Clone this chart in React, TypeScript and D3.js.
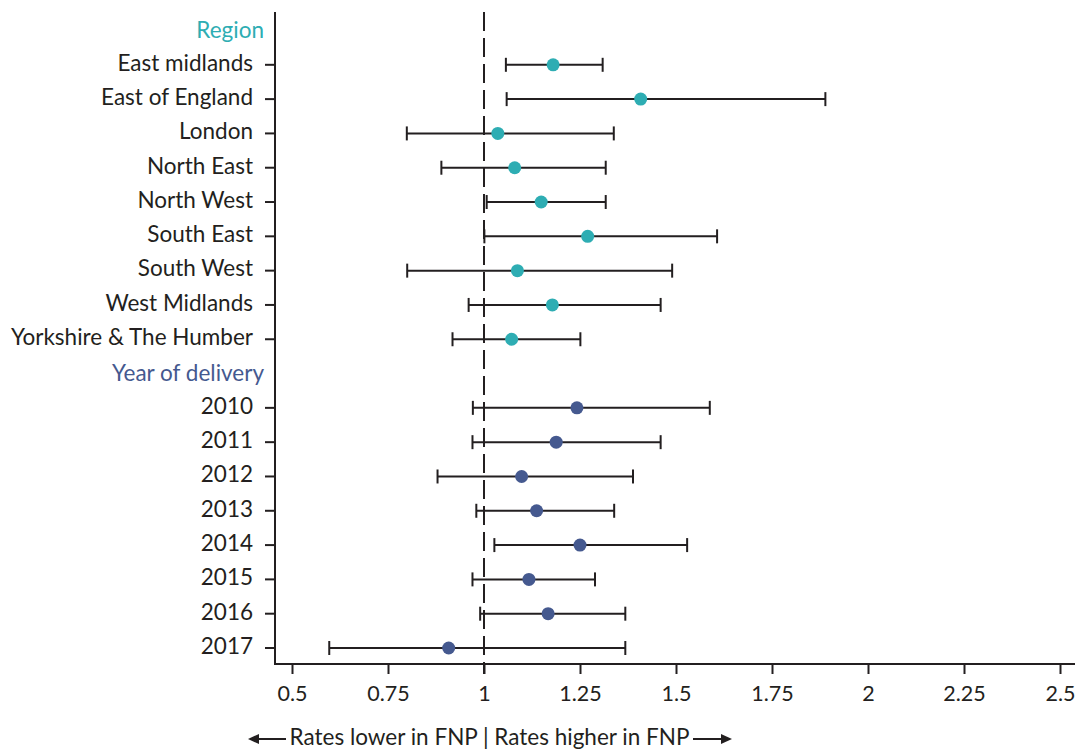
import React, { useEffect, useRef } from "react";
import * as d3 from "d3";

const regionLabels = [
  "East midlands",
  "East of England",
  "London",
  "North East",
  "North West",
  "South East",
  "South West",
  "West Midlands",
  "Yorkshire & The Humber",
];
const regionEstimate = [1.18, 1.408, 1.036, 1.08, 1.149, 1.27, 1.087, 1.178, 1.072];
const regionLower = [1.057, 1.059, 0.799, 0.889, 1.007, 1.001, 0.8, 0.96, 0.918];
const regionUpper = [1.309, 1.889, 1.338, 1.317, 1.317, 1.607, 1.49, 1.46, 1.251];

const yearLabels = ["2010", "2011", "2012", "2013", "2014", "2015", "2016", "2017"];
const yearEstimate = [1.242, 1.188, 1.098, 1.137, 1.25, 1.117, 1.167, 0.908];
const yearLower = [0.971, 0.97, 0.879, 0.98, 1.027, 0.97, 0.99, 0.597];
const yearUpper = [1.588, 1.46, 1.388, 1.339, 1.529, 1.289, 1.368, 1.368];

const xTicks = [0.5, 0.75, 1, 1.25, 1.5, 1.75, 2, 2.25, 2.5];
const groupHeaders = ["Region", "Year of delivery"];
const referenceValue = 1;
const footerText = "Rates lower in FNP | Rates higher in FNP";

const W = 1079;
const H = 751;
const FONT = "Lato, 'Noto Sans', sans-serif";
const TEXT = "#231f20";
const TEAL = "#2eadb3";
const NAVY = "#45598f";
const LABEL_SIZE = 22.5;
const TICK_SIZE = 21.5;

type Row = { key: string; label: string; header?: boolean; color?: string; est?: number; lo?: number; hi?: number };

const rows: Row[] = [
  { key: "h0", label: groupHeaders[0], header: true, color: TEAL },
  ...regionLabels.map((l, i) => ({ key: "r" + i, label: l, color: TEAL, est: regionEstimate[i], lo: regionLower[i], hi: regionUpper[i] })),
  { key: "h1", label: groupHeaders[1], header: true, color: NAVY },
  ...yearLabels.map((l, i) => ({ key: "y" + i, label: l, color: NAVY, est: yearEstimate[i], lo: yearLower[i], hi: yearUpper[i] })),
];

export default function App() {
  const axisRef = useRef<SVGGElement>(null);
  const x = d3.scaleLinear().domain([0.5, 2.5]).range([292, 1060]);
  const y = d3.scalePoint<string>().domain(rows.map((r) => r.key)).range([30.5, 648]);
  const axisX = 275;
  const axisY = 664;
  const topY = 12;

  useEffect(() => {
    if (!axisRef.current) return;
    const g = d3.select(axisRef.current);
    g.selectAll("*").remove();
    g.call(
      d3
        .axisBottom(x)
        .tickValues(xTicks)
        .tickSize(10)
        .tickPadding(12)
        .tickFormat((d) => String(d))
    );
    g.select(".domain").remove();
    g.selectAll(".tick line").attr("stroke", TEXT).attr("stroke-width", 2);
    g.selectAll(".tick text")
      .attr("fill", TEXT)
      .style("font-family", FONT)
      .style("font-size", TICK_SIZE + "px");
  }, []);

  const capH = 7;

  return (
    <svg width={W} height={H} style={{ position: "absolute", left: 0, top: 0, background: "#fff" }}>
      <line
        x1={x(referenceValue)}
        x2={x(referenceValue)}
        y1={topY}
        y2={axisY + 10}
        stroke={TEXT}
        strokeWidth={2}
        strokeDasharray="19,7"
      />
      <line x1={axisX} x2={axisX} y1={topY} y2={axisY + 1} stroke={TEXT} strokeWidth={2} />
      <line x1={axisX - 1} x2={1075} y1={axisY} y2={axisY} stroke={TEXT} strokeWidth={2} />
      <g ref={axisRef} transform={`translate(0,${axisY})`} />

      {rows.map((r) => {
        const yy = y(r.key)!;
        if (r.header) {
          return (
            <text key={r.key} x={264} y={yy} dy="0.32em" textAnchor="end" fill={r.color} fontFamily={FONT} fontSize={LABEL_SIZE}>
              {r.label}
            </text>
          );
        }
        return (
          <g key={r.key}>
            <line x1={axisX - 10} x2={axisX} y1={yy} y2={yy} stroke={TEXT} strokeWidth={2} />
            <text x={253} y={yy} dy="0.26em" textAnchor="end" fill={TEXT} fontFamily={FONT} fontSize={LABEL_SIZE}>
              {r.label}
            </text>
            <line x1={x(r.lo!)} x2={x(r.hi!)} y1={yy} y2={yy} stroke={TEXT} strokeWidth={2} />
            <line x1={x(r.lo!)} x2={x(r.lo!)} y1={yy - capH} y2={yy + capH} stroke={TEXT} strokeWidth={2} />
            <line x1={x(r.hi!)} x2={x(r.hi!)} y1={yy - capH} y2={yy + capH} stroke={TEXT} strokeWidth={2} />
            <circle cx={x(r.est!)} cy={yy} r={6.5} fill={r.color} />
          </g>
        );
      })}

      <g>
        <text x={489.5} y={737} dy="0.35em" textAnchor="middle" fill={TEXT} fontFamily={FONT} fontSize={LABEL_SIZE}>
          {footerText}
        </text>
        <line x1={256} x2={286} y1={739} y2={739} stroke={TEXT} strokeWidth={2} />
        <path d="M248,739 L259,734 L259,744 Z" fill={TEXT} />
        <line x1={693} x2={723} y1={739} y2={739} stroke={TEXT} strokeWidth={2} />
        <path d="M732,739 L721,734 L721,744 Z" fill={TEXT} />
      </g>
    </svg>
  );
}
